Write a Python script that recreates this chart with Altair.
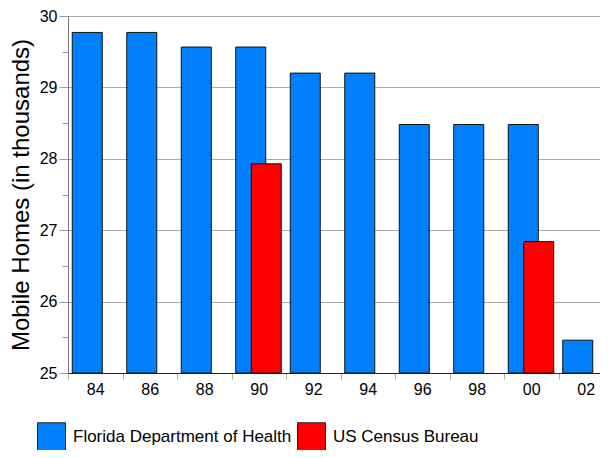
import altair as alt
import pandas as pd

years = ["84", "86", "88", "90", "92", "94", "96", "98", "00", "02"]
florida = [29.77, 29.77, 29.565, 29.565, 29.20, 29.20, 28.48, 28.48, 28.48, 25.46]
census_years = ["90", "00"]
census = [27.93, 26.84]
series = ["Florida Department of Health", "US Census Bureau"]
colors = ["#0080FF", "#FF0000"]
y_ticks = [25, 25.5, 26, 26.5, 27, 27.5, 28, 28.5, 29, 29.5, 30]

df_f = pd.DataFrame({"year": years, "value": florida, "source": series[0]})
df_c = pd.DataFrame({"year": census_years, "value": census, "source": series[1]})

FONT = "Liberation Sans"

x = alt.X("year:N", sort=years, title=None,
          scale=alt.Scale(domain=years, paddingInner=0, paddingOuter=0, range=[0, 545]),
          axis=alt.Axis(labelAngle=0, labelFont=FONT, labelFontSize=16, labelColor="#000",
                        tickBand="extent", tickColor="#aaa", tickSize=6, labelPadding=2,
                        domainColor="#222", domainWidth=1, grid=False))
y = alt.Y("value:Q", title="Mobile Homes (in thousands)",
          scale=alt.Scale(domain=[25, 30], zero=False, nice=False),
          axis=alt.Axis(values=y_ticks,
                        labelExpr="datum.value % 1 === 0 ? format(datum.value, 'd') : ''",
                        labelFont=FONT, labelFontSize=16, labelColor="#000", labelPadding=2,
                        tickColor="#999",
                        tickSize={"condition": {"test": "datum.value % 1 === 0", "value": 9}, "value": 6},
                        grid=True, gridColor="#aaa",
                        gridOpacity={"condition": {"test": "datum.value % 1 === 0", "value": 1}, "value": 0},
                        domainColor="#777",
                        titleFont=FONT, titleFontSize=24, titleFontWeight="normal", titleColor="#000",
                        titlePadding=6))
color = alt.Color("source:N", scale=alt.Scale(domain=series, range=colors),
                  legend=alt.Legend(title=None, orient="none", direction="horizontal",
                                    legendX=-31, legendY=406, padding=0,
                                    symbolType="square", symbolSize=784,
                                    symbolStrokeColor="#222", symbolStrokeWidth=1,
                                    labelFont=FONT, labelFontSize=17, labelColor="#000",
                                    labelOffset=7, columnPadding=3, labelLimit=400))

blue = alt.Chart(df_f).mark_bar(size=30, xOffset=-8, stroke="#111", strokeWidth=1).encode(
    x=x, y=y, y2=alt.datum(25), color=color)
red = alt.Chart(df_c).mark_bar(size=30, xOffset=7.5, stroke="#111", strokeWidth=1).encode(
    x=x, y=y, y2=alt.datum(25), color=color)

chart = alt.layer(blue, red).properties(
    width=532, height=357,
    autosize=alt.AutoSizeParams(type="none"),
    padding={"left": 60, "top": 8, "right": 0, "bottom": 77},
).configure_view(stroke="#777", strokeWidth=1)

chart.save("out.html", embed_options={"renderer": "svg", "actions": False})
